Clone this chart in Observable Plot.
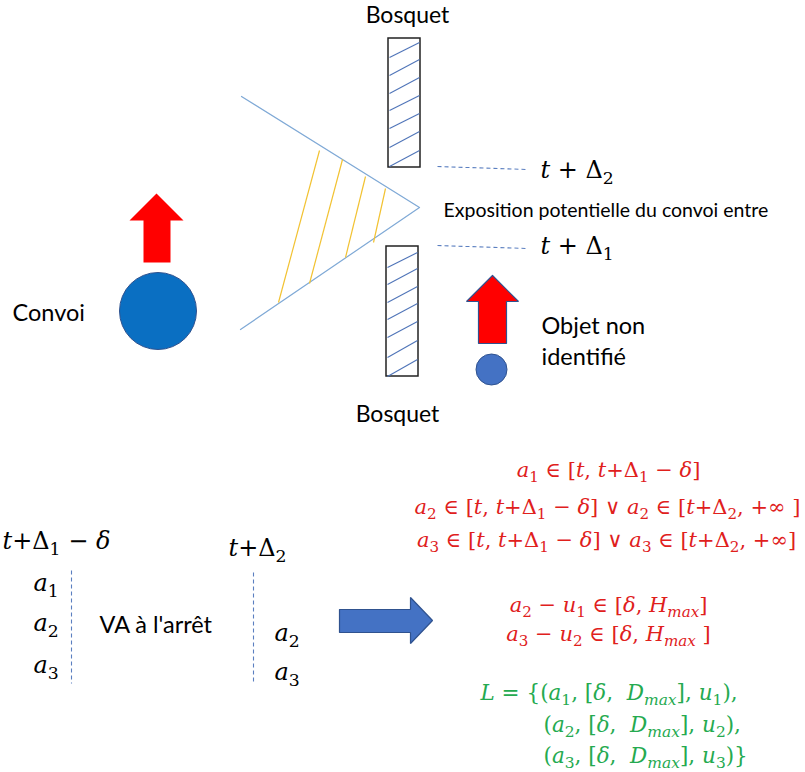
<!DOCTYPE html>
<html><head><meta charset="utf-8">
<script src="https://cdn.jsdelivr.net/npm/d3@7"></script>
<script src="https://cdn.jsdelivr.net/npm/@observablehq/plot@0.6"></script>
<style>body{margin:0;background:#fff} svg{display:block} text{white-space:pre}</style>
</head><body><div id="chart"></div>
<script>
// ---- Diagram data (diagram coordinates, 805 x 772 grid, y downward) ----
const hedges = [
  {name: "Bosquet haut", x1: 388, x2: 420, y1: 38, y2: 167},
  {name: "Bosquet bas", x1: 386, x2: 418, y1: 246, y2: 376}
];
const hedgeHatch = [
  {x1: 389, y1: 57, x2: 419, y2: 42}, {x1: 389, y1: 75, x2: 419, y2: 59},
  {x1: 389, y1: 93, x2: 419, y2: 77}, {x1: 389, y1: 110, x2: 419, y2: 95},
  {x1: 389, y1: 128, x2: 419, y2: 113}, {x1: 389, y1: 147, x2: 419, y2: 131},
  {x1: 389, y1: 166, x2: 419, y2: 150},
  {x1: 387, y1: 267, x2: 417, y2: 252}, {x1: 387, y1: 284, x2: 417, y2: 268},
  {x1: 387, y1: 302, x2: 417, y2: 286}, {x1: 387, y1: 319, x2: 417, y2: 303},
  {x1: 387, y1: 337, x2: 417, y2: 321}, {x1: 387, y1: 357, x2: 417, y2: 340},
  {x1: 387, y1: 376, x2: 417, y2: 359}
];
const sightCone = [{x: 241, y: 96}, {x: 419, y: 207}, {x: 240, y: 329}];
const exposureHatch = [
  {x1: 319, y1: 150, x2: 278, y2: 302}, {x1: 342, y1: 159, x2: 309, y2: 283},
  {x1: 365, y1: 176, x2: 345, y2: 257}, {x1: 385, y1: 188, x2: 373, y2: 242}
];
const timeMarks = [
  {x1: 437, y1: 166, x2: 527, y2: 169}, {x1: 437, y1: 245, x2: 527, y2: 248},
  {x1: 71, y1: 570, x2: 71, y2: 683}, {x1: 253, y1: 572, x2: 253, y2: 683}
];
const convoiArrow = [[156,193],[183,220],[170,220],[170,262],[143,262],[143,220],[129,220],[156,193]];
const objetArrow = [[492,275],[518,301],[506,301],[506,343],[478,343],[478,301],[466,301],[492,275]];
const implyArrow = [[339,609],[410,609],[410,597],[432,620],[410,643],[410,632],[339,632],[339,609]];
const vehicles = [
  {name: "Convoi", x: 157.5, y: 310.5, r: 38.5, color: "#0a6fc2"},
  {name: "Objet", x: 491, y: 369, r: 15.5, color: "#4472c4"}
];
const labelsCentered = [
  {text: "Bosquet", x: 407, y: 15.5},
  {text: "Bosquet", x: 397, y: 414}
];
const labelsLeft = [
  {text: "Convoi", x: 12, y: 313},
  {text: "Objet non", x: 541, y: 326},
  {text: "identifié", x: 541, y: 357},
  {text: "VA à l'arrêt", x: 99, y: 625}
];
const noteLabel = [{text: "Exposition potentielle du convoi entre", x: 443, y: 210}];
const mathLeft = [
  {text: "<i>t</i> + Δ<s>2</s>", x: 540, y: 170},
  {text: "<i>t</i> + Δ<s>1</s>", x: 540, y: 246},
  {text: "<i>t</i>+Δ<s>1</s> − <i>δ</i>", x: 2, y: 541},
  {text: "<i>t</i>+Δ<s>2</s>", x: 228, y: 548},
  {text: "<i>a</i><s>1</s>", x: 33, y: 583},
  {text: "<i>a</i><s>2</s>", x: 33, y: 623},
  {text: "<i>a</i><s>3</s>", x: 33, y: 665},
  {text: "<i>a</i><s>2</s>", x: 274, y: 633},
  {text: "<i>a</i><s>3</s>", x: 274, y: 672}
];
const constraints = [
  {text: "<i>a</i><s>1</s> ∈ [<i>t</i>, <i>t</i>+Δ<s>1</s> − <i>δ</i>]", x: 608, y: 470},
  {text: "<i>a</i><s>2</s> ∈ [<i>t</i>, <i>t</i>+Δ<s>1</s> − <i>δ</i>] ∨ <i>a</i><s>2</s> ∈ [<i>t</i>+Δ<s>2</s>, +∞ ]", x: 607, y: 507},
  {text: "<i>a</i><s>3</s> ∈ [<i>t</i>, <i>t</i>+Δ<s>1</s> − <i>δ</i>] ∨ <i>a</i><s>3</s> ∈ [<i>t</i>+Δ<s>2</s>, +∞]", x: 606, y: 540},
  {text: "<i>a</i><s>2</s> − <i>u</i><s>1</s> ∈ [<i>δ</i>, <i>H</i><s><i>max</i></s>]", x: 608, y: 605},
  {text: "<i>a</i><s>3</s> − <i>u</i><s>2</s> ∈ [<i>δ</i>, <i>H</i><s><i>max</i></s> ]", x: 608, y: 634}
];
const listL = [
  {text: "<i>L</i> = {(<i>a</i><s>1</s>, [<i>δ</i>,  <i>D</i><s><i>max</i></s>], <i>u</i><s>1</s>),", x: 480, y: 693},
  {text: "(<i>a</i><s>2</s>, [<i>δ</i>,  <i>D</i><s><i>max</i></s>], <i>u</i><s>2</s>),", x: 543, y: 725},
  {text: "(<i>a</i><s>3</s>, [<i>δ</i>,  <i>D</i><s><i>max</i></s>], <i>u</i><s>3</s>)}", x: 543, y: 756}
];

const poly = (pts, id) => pts.map(([x, y]) => ({x, y, id}));
const SANS = "Lato";
const MATH = "DejaVu Serif";

const chart = Plot.plot({
  width: 805, height: 772,
  margin: 0,
  x: {domain: [0, 805], range: [0, 805], axis: null},
  y: {domain: [0, 772], range: [0, 772], axis: null},
  r: {type: "identity"},
  color: {type: "identity"},
  style: {background: "#fff"},
  marks: [
    Plot.line(sightCone, {x: "x", y: "y", stroke: "#7fa9d6", strokeWidth: 1.2}),
    Plot.link(exposureHatch, {x1: "x1", y1: "y1", x2: "x2", y2: "y2", stroke: "#f2c232", strokeWidth: 1.2}),
    Plot.rect(hedges, {x1: "x1", x2: "x2", y1: "y1", y2: "y2", fill: "#fff", stroke: "#222", strokeWidth: 1.5}),
    Plot.link(hedgeHatch, {x1: "x1", y1: "y1", x2: "x2", y2: "y2", stroke: "#4f74b8", strokeWidth: 1.1}),
    Plot.link(timeMarks, {x1: "x1", y1: "y1", x2: "x2", y2: "y2", stroke: "#5b7fc0", strokeWidth: 1.1, strokeDasharray: "4,3"}),
    Plot.line(poly(convoiArrow, "c"), {x: "x", y: "y", fill: "#ff0000", stroke: "none", strokeWidth: 0}),
    Plot.line(poly(objetArrow, "o"), {x: "x", y: "y", fill: "#ff0000", stroke: "#2f528f", strokeWidth: 1.2, strokeLinejoin: "miter"}),
    Plot.line(poly(implyArrow, "i"), {x: "x", y: "y", fill: "#4472c4", stroke: "#2f528f", strokeWidth: 1.2, strokeLinejoin: "miter"}),
    Plot.dot(vehicles, {x: "x", y: "y", r: "r", fill: "color", stroke: "#2f528f", strokeWidth: 1, symbol: "circle"}),
    Plot.text(labelsCentered, {x: "x", y: "y", text: "text", fontFamily: SANS, fontSize: 23, fill: "#000", textAnchor: "middle"}),
    Plot.text(labelsLeft, {x: "x", y: "y", text: "text", fontFamily: SANS, fontSize: 23.5, fill: "#000", textAnchor: "start"}),
    Plot.text(noteLabel, {x: "x", y: "y", text: "text", fontFamily: SANS, fontSize: 19.5, fill: "#000", textAnchor: "start"}),
    Plot.text(mathLeft, {x: "x", y: "y", text: "text", fontFamily: MATH, fontSize: 24, fill: "#000", textAnchor: "start"}),
    Plot.text(constraints, {x: "x", y: "y", text: "text", fontFamily: MATH, fontSize: 21, fill: "#e0201c", textAnchor: "middle"}),
    Plot.text(listL, {x: "x", y: "y", text: "text", fontFamily: MATH, fontSize: 21.5, fill: "#25aa50", textAnchor: "start"})
  ]
});
document.getElementById("chart").appendChild(chart);

// rich math text: <i> italic, <s> subscript -> tspans
const NS = "http://www.w3.org/2000/svg";
d3.select(chart).selectAll("text").each(function () {
  const s = this.textContent;
  if (!/<\/?[is]>/.test(s)) return;
  const parts = s.split(/(<\/?[is]>)/);
  let it = false, sub = false, wasSub = false;
  this.textContent = "";
  for (const p of parts) {
    if (p === "<i>") { it = true; continue; }
    if (p === "</i>") { it = false; continue; }
    if (p === "<s>") { sub = true; continue; }
    if (p === "</s>") { sub = false; continue; }
    if (!p) continue;
    const t = document.createElementNS(NS, "tspan");
    t.textContent = p;
    if (it) t.setAttribute("font-style", "italic");
    if (sub) {
      t.setAttribute("font-size", "72%");
      if (!wasSub) t.setAttribute("dy", "0.32em");
    } else if (wasSub) {
      t.setAttribute("dy", "-0.23em");
    }
    wasSub = sub;
    this.appendChild(t);
  }
});
</script></body></html>
